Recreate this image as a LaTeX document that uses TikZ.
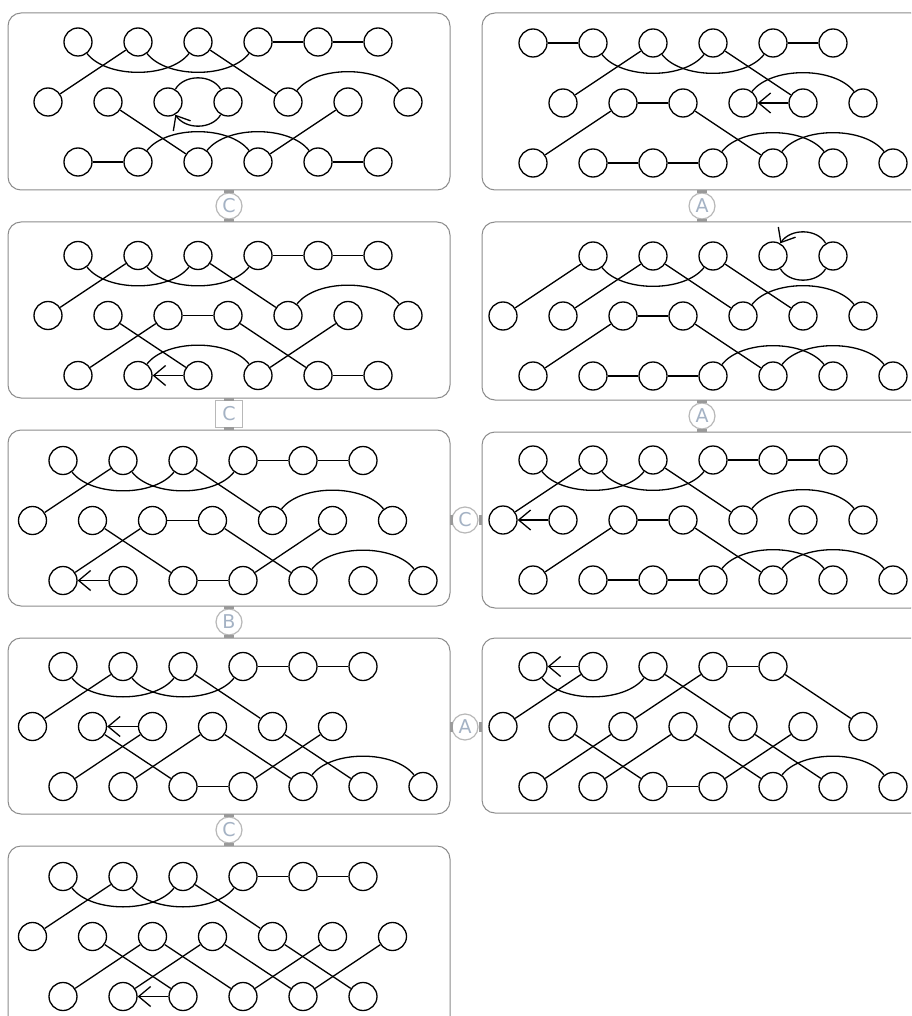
\documentclass[tikz,border=0pt]{standalone}
\usepackage{fontspec}
\newfontfamily\labfont{DejaVu Sans}
\usetikzlibrary{arrows.meta,bending}
\definecolor{boxgray}{HTML}{8C8C8C}
\definecolor{labgray}{HTML}{B8B8B8}
\definecolor{labtext}{HTML}{A4B2C4}
\definecolor{stubgray}{HTML}{9A9A9A}
\newcommand\pnodes[8]{%
  \foreach \i in {1,...,#3} \node[nd] (#1a\i) at ({#2+60*(\i-1)}, {-(#8)}) {};
  \foreach \i in {1,...,#5} \node[nd] (#1b\i) at ({#4+60*(\i-1)}, {-(#8)-60}) {};
  \foreach \i in {1,...,#7} \node[nd] (#1c\i) at ({#6+60*(\i-1)}, {-(#8)-120}) {};
}
\begin{document}
\begin{tikzpicture}[x=1pt,y=1pt,
  nd/.style={circle, draw=black, line width=1.3pt, minimum size=28pt, inner sep=0pt},
  ln/.style={draw=black, line width=1.3pt},
  arr/.style={-{Straight Barb[length=12pt,width=20pt]}},
  sag/.style={out=-52, in=-128, looseness=0.8},
  arch/.style={out=52, in=128, looseness=0.8},
  panel/.style={draw=boxgray, line width=1pt, rounded corners=13pt},
  lab/.style={circle, draw=labgray, line width=1.2pt, minimum size=26pt, inner sep=0pt, text=labtext, font=\labfont\fontsize{19}{19}\selectfont},
  labsq/.style={rectangle, draw=labgray, line width=1.2pt, minimum size=27pt, inner sep=0pt, text=labtext, font=\labfont\fontsize{19}{19}\selectfont},
  stub/.style={draw=stubgray, line width=2.2pt}]
\fill[white] (0,0) rectangle (911,-1016);
\useasboundingbox (0,0) rectangle (911,-1016);
\clip (0,0) rectangle (911,-1016);

% panel boxes
\draw[panel] (8,-13) rectangle (450,-190);
\draw[panel] (482,-13) rectangle (924,-190);
\draw[panel] (8,-222) rectangle (450,-398);
\draw[panel] (482,-222) rectangle (924,-400);
\draw[panel] (8,-430) rectangle (450,-606);
\draw[panel] (482,-432) rectangle (924,-608);
\draw[panel] (8,-638) rectangle (450,-814);
\draw[panel] (482,-638) rectangle (924,-813);
\draw[panel] (8,-846) rectangle (450,-1040);

% ---------- panel 1
\pnodes{p1}{78}{6}{48}{7}{78}{6}{42}
\foreach \u/\v in {a4/a5,a5/a6,c1/c2,c5/c6,a2/b1,a3/b5,b2/c3,b6/c4} \draw[ln] (p1\u) -- (p1\v);
\foreach \u/\v in {a1/a3,a2/a4} \draw[ln] (p1\u.-52) to[sag] (p1\v.-128);
\foreach \u/\v in {b5/b7,c2/c4,c3/c5} \draw[ln] (p1\u.52) to[arch] (p1\v.128);
\draw[ln] (p1b3) to[bend left=60] (p1b4);
\draw[ln,arr] (p1b4) to[bend left=60] (p1b3);

% ---------- panel 2
\pnodes{p2}{533}{6}{563}{6}{533}{7}{43}
\foreach \u/\v in {a1/a2,a5/a6,b2/b3,c2/c3,c3/c4,b1/a3,a4/b5,b2/c1,b3/c5} \draw[ln] (p2\u) -- (p2\v);
\foreach \u/\v in {a2/a4,a3/a5} \draw[ln] (p2\u.-52) to[sag] (p2\v.-128);
\foreach \u/\v in {b4/b6,c4/c6,c5/c7} \draw[ln] (p2\u.52) to[arch] (p2\v.128);
\draw[ln,arr] (p2b5) -- (p2b4);

% ---------- panel 3
\pnodes{p3}{78}{6}{48}{7}{78}{6}{255.5}
\foreach \u/\v in {a4/a5,a5/a6,b3/b4,c5/c6,a2/b1,a3/b5,b2/c3,b3/c1,b4/c5,b6/c4} \draw[ln] (p3\u) -- (p3\v);
\foreach \u/\v in {a1/a3,a2/a4} \draw[ln] (p3\u.-52) to[sag] (p3\v.-128);
\foreach \u/\v in {b5/b7,c2/c4} \draw[ln] (p3\u.52) to[arch] (p3\v.128);
\draw[ln,arr] (p3c3) -- (p3c2);

% ---------- panel 4
\pnodes{p4}{593}{5}{503}{7}{533}{7}{256}
\foreach \u/\v in {b3/b4,c2/c3,c3/c4,a1/b1,a2/b2,a2/b5,a3/b6,b3/c1,b4/c5} \draw[ln] (p4\u) -- (p4\v);
\draw[ln] (p4a1.-52) to[sag] (p4a3.-128);
\foreach \u/\v in {b5/b7,c4/c6,c5/c7} \draw[ln] (p4\u.52) to[arch] (p4\v.128);
\draw[ln] (p4a4) to[bend right=60] (p4a5);
\draw[ln,arr] (p4a5) to[bend right=60] (p4a4);

% ---------- panel 5
\pnodes{p5}{63}{6}{32.5}{7}{63}{7}{460.5}
\foreach \u/\v in {a4/a5,a5/a6,b3/b4,c3/c4,a2/b1,a3/b5,b2/c3,b3/c1,b4/c5,b6/c4} \draw[ln] (p5\u) -- (p5\v);
\foreach \u/\v in {a1/a3,a2/a4} \draw[ln] (p5\u.-52) to[sag] (p5\v.-128);
\foreach \u/\v in {b5/b7,c5/c7} \draw[ln] (p5\u.52) to[arch] (p5\v.128);
\draw[ln,arr] (p5c2) -- (p5c1);

% ---------- panel 6
\pnodes{p6}{533}{6}{503}{7}{533}{7}{460}
\foreach \u/\v in {a4/a5,a5/a6,b3/b4,c2/c3,c3/c4,a2/b1,a3/b5,b3/c1,b4/c5} \draw[ln] (p6\u) -- (p6\v);
\foreach \u/\v in {a1/a3,a2/a4} \draw[ln] (p6\u.-52) to[sag] (p6\v.-128);
\foreach \u/\v in {b5/b7,c4/c6,c5/c7} \draw[ln] (p6\u.52) to[arch] (p6\v.128);
\draw[ln,arr] (p6b2) -- (p6b1);

% ---------- panel 7
\pnodes{p7}{63}{6}{32.5}{6}{63}{7}{666.5}
\foreach \u/\v in {a4/a5,a5/a6,c3/c4,a2/b1,a3/b5,b2/c3,b3/c1,b4/c2,b4/c5,b5/c6,b6/c4} \draw[ln] (p7\u) -- (p7\v);
\foreach \u/\v in {a1/a3,a2/a4} \draw[ln] (p7\u.-52) to[sag] (p7\v.-128);
\draw[ln] (p7c5.52) to[arch] (p7c7.128);
\draw[ln,arr] (p7b3) -- (p7b2);

% ---------- panel 8
\pnodes{p8}{533}{5}{503}{7}{533}{7}{666.5}
\foreach \u/\v in {a4/a5,c3/c4,a2/b1,a3/b5,a4/b3,a5/b7,b2/c3,b3/c1,b4/c2,b4/c5,b5/c6,b6/c4} \draw[ln] (p8\u) -- (p8\v);
\draw[ln] (p8a1.-52) to[sag] (p8a3.-128);
\draw[ln] (p8c5.52) to[arch] (p8c7.128);
\draw[ln,arr] (p8a2) -- (p8a1);

% ---------- panel 9
\pnodes{p9}{63}{6}{32.5}{7}{63}{6}{876.5}
\foreach \u/\v in {a4/a5,a5/a6,a2/b1,a3/b5,b2/c3,b3/c1,b3/c4,b4/c2,b4/c5,b5/c6,b6/c4,b7/c5} \draw[ln] (p9\u) -- (p9\v);
\foreach \u/\v in {a1/a3,a2/a4} \draw[ln] (p9\u.-52) to[sag] (p9\v.-128);
\draw[ln,arr] (p9c3) -- (p9c2);

% ---------- labels
\node[lab] (L1) at (229,-206) {C};
\draw[stub] (224,-191.5) -- (234,-191.5) (224,-220.5) -- (234,-220.5);
\node[lab] (L2) at (702,-206) {A};
\draw[stub] (697,-191.5) -- (707,-191.5) (697,-220.5) -- (707,-220.5);
\node[labsq] (L3) at (229,-414) {C};
\draw[stub] (224,-399.5) -- (234,-399.5) (224,-428.5) -- (234,-428.5);
\node[lab] (L4) at (702,-416) {A};
\draw[stub] (697,-401.5) -- (707,-401.5) (697,-430.5) -- (707,-430.5);
\node[lab] (L5) at (229,-622) {B};
\draw[stub] (224,-607.5) -- (234,-607.5) (224,-636.5) -- (234,-636.5);
\node[lab] (L6) at (465,-520) {C};
\draw[stub] (451.5,-515) -- (451.5,-525) (480.5,-515) -- (480.5,-525);
\node[lab] (L7) at (229,-830) {C};
\draw[stub] (224,-815.5) -- (234,-815.5) (224,-844.5) -- (234,-844.5);
\node[lab] (L8) at (465,-727) {A};
\draw[stub] (451.5,-722) -- (451.5,-732) (480.5,-722) -- (480.5,-732);
\end{tikzpicture}
\end{document}
